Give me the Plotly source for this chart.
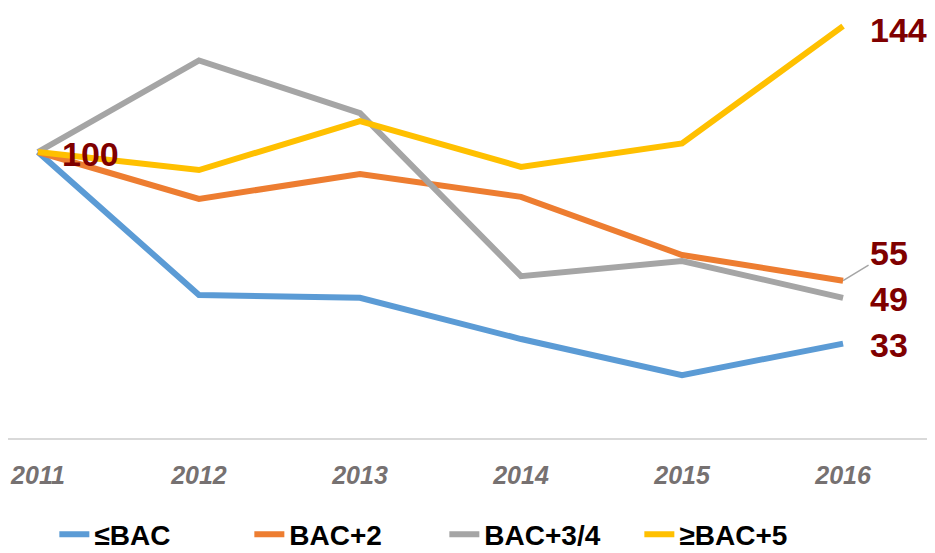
import plotly.graph_objects as go

years = [2011, 2012, 2013, 2014, 2015, 2016]
series_names = ["≤BAC", "BAC+2", "BAC+3/4", "≥BAC+5"]
bac = [100, 50, 49, 34.6, 22, 33]
bac2 = [100, 83.6, 92.3, 84.3, 64, 55]
bac34 = [100, 132, 113.6, 56.6, 61.9, 49]
bac5 = [100, 93.7, 110.8, 94.8, 103, 144]
colors = ["#5b9bd5", "#ed7d31", "#a5a5a5", "#ffc000"]

LABEL_RED = "#7f0000"
FONT = "Liberation Sans, Arial, sans-serif"

fig = go.Figure()
for name, vals, col in zip(series_names, [bac, bac2, bac34, bac5], colors):
    fig.add_trace(go.Scatter(x=years, y=vals, mode="lines", name=name,
                             line=dict(color=col, width=6)))

label_font = dict(family=FONT, size=34, color=LABEL_RED, weight="bold")

# start value, written once
fig.add_annotation(x=years[0], y=bac[0], text="100", showarrow=False,
                   xanchor="left", xshift=22, yshift=-2, font=label_font)

# end values
fig.add_annotation(x=years[-1], y=bac5[-1], text=str(int(bac5[-1])), showarrow=False,
                   xanchor="left", xshift=25, yshift=-4, font=label_font)
fig.add_annotation(x=years[-1], y=bac34[-1], text=str(int(bac34[-1])), showarrow=False,
                   xanchor="left", xshift=25, yshift=-1, font=label_font)
fig.add_annotation(x=years[-1], y=bac[-1], text=str(int(bac[-1])), showarrow=False,
                   xanchor="left", xshift=25, yshift=-1, font=label_font)
fig.add_annotation(x=years[-1], y=bac2[-1], text=str(int(bac2[-1])), showarrow=True,
                   ax=46, ay=-28, arrowhead=0, arrowwidth=1.5, arrowcolor="#a5a5a5",
                   standoff=0, font=label_font)

# page body adds an 8px margin, so the figure is 8px smaller than the window
fig.update_layout(
    width=927, height=545,
    margin=dict(l=0, r=0, t=1, b=115, autoexpand=False),
    paper_bgcolor="white", plot_bgcolor="white",
    showlegend=True,
    legend=dict(orientation="h", x=0.05, xanchor="left",
                yref="container", y=0.034, yanchor="middle",
                font=dict(family=FONT, size=28, color="black", weight="bold"),
                entrywidth=150, entrywidthmode="pixels", tracegroupgap=0),
    xaxis=dict(range=[2011 - 0.186, 2011 + 5.571], tickvals=years,
               ticktext=[str(y) for y in years], automargin=False,
               showgrid=False, zeroline=False, showline=True,
               linecolor="#d9d9d9", linewidth=1.5,
               ticks="", ticklabelstandoff=14,
               tickfont=dict(family=FONT, size=25, color="#767171",
                             weight="bold", style="italic")),
    yaxis=dict(range=[0, 150], visible=False, showgrid=False, zeroline=False,
               automargin=False),
)

fig.write_html("out.html")
